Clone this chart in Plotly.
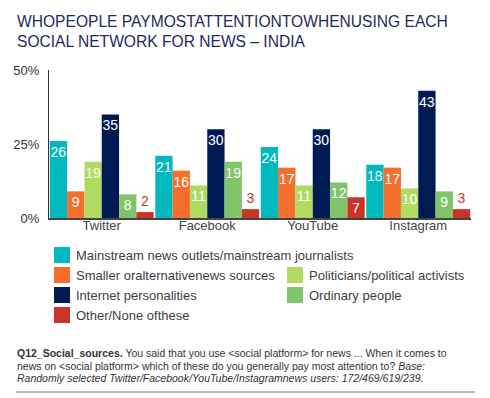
import plotly.graph_objects as go

categories = ["Twitter", "Facebook", "YouTube", "Instagram"]
series_names = [
    "Mainstream news outlets/mainstream journalists",
    "Smaller oralternativenews sources",
    "Politicians/political activists",
    "Internet personalities",
    "Ordinary people",
    "Other/None ofthese",
]
mainstream = [26, 21, 24, 18]
smaller = [9, 16, 17, 17]
politicians = [19, 11, 11, 10]
internet = [35, 30, 30, 43]
ordinary = [8, 19, 12, 9]
other = [2, 3, 7, 3]
series_values = [mainstream, smaller, politicians, internet, ordinary, other]
colors = ["#00B8BE", "#F36F2B", "#B1DA63", "#001A54", "#82C46A", "#C9342A"]
y_tick_vals = [0, 25, 50]
y_tick_text = ["0%", "25%", "50%"]

# page body has an 8px default margin; work in page pixels and subtract it
OFF = 8
W, H = 490 - OFF, 398 - OFF
PL, PR, PT, PB = 49, 471, 70, 218          # plot area in page pixels
L, T = PL - OFF, PT - OFF
R, B = W - (PR - OFF), H - (PB - OFF)
PW, PH = PR - PL, PB - PT


def px(x):
    return (x - PL) / PW


def py(y):
    return (PB - y) / PH


fig = go.Figure()
for name, vals, col in zip(series_names, series_values, colors):
    positions = ["inside" if v >= 6 else "outside" for v in vals]
    fig.add_trace(go.Bar(
        x=categories, y=vals, name=name, marker=dict(color=col, line=dict(width=0)),
        text=[str(v) for v in vals], textposition=positions,
        insidetextanchor="end", textangle=0, constraintext="none",
        insidetextfont=dict(color="white", size=14, family="Liberation Sans"),
        outsidetextfont=dict(color=col, size=14, family="Liberation Sans"),
        cliponaxis=False, showlegend=False,
    ))

fig.update_layout(
    width=W, height=H,
    margin=dict(l=L, r=R, t=T, b=B),
    paper_bgcolor="white", plot_bgcolor="white",
    barmode="group", bargap=0.015, bargroupgap=0,
    font=dict(family="Liberation Sans", color="#333333"),
)
fig.update_yaxes(
    range=[0, 50], tickvals=y_tick_vals, ticktext=y_tick_text,
    showgrid=False, zeroline=False, showline=True, linecolor="#333333", linewidth=1,
    ticks="", tickfont=dict(size=13, color="#333333"), ticklabelstandoff=6,
    automargin=False,
)
fig.update_xaxes(
    showgrid=False, showline=True, linecolor="#444444", linewidth=1.5,
    ticks="", tickfont=dict(size=13, color="#444444"), ticklabelstandoff=-5,
    automargin=False,
)

# Title
fig.add_annotation(
    xref="paper", yref="paper", x=px(15), y=py(11), xanchor="left", yanchor="top",
    text="WHOPEOPLE PAYMOSTATTENTIONTOWHENUSING EACH<br>SOCIAL NETWORK FOR NEWS \u2013 INDIA",
    showarrow=False, align="left",
    font=dict(size=15.6, color="#1F2B5C", family="Liberation Sans"),
)

# Legend (manual layout)
legend_items = [
    (0, 54, 247), (1, 54, 267), (2, 287, 267),
    (3, 54, 287), (4, 287, 287), (5, 54, 307),
]
for idx, lx, ly in legend_items:
    fig.add_shape(
        type="rect", xref="paper", yref="paper",
        x0=px(lx), x1=px(lx + 16), y0=py(ly), y1=py(ly + 16),
        fillcolor=colors[idx], line=dict(width=0),
    )
    fig.add_annotation(
        xref="paper", yref="paper", x=px(lx + 20), y=py(ly + 8),
        xanchor="left", yanchor="middle", text=series_names[idx], showarrow=False,
        font=dict(size=13, color="#404040", family="Liberation Sans"),
    )

# Footnote
foot_lines = [
    "<b>Q12_Social_sources.</b> You said that you use &lt;social platform&gt; for news ... When it comes to",
    "news on &lt;social platform&gt; which of these do you generally pay most attention to? <i>Base:</i>",
    "<i>Randomly selected Twitter/Facebook/YouTube/Instagramnews users: 172/469/619/239</i>.",
]
for i, line in enumerate(foot_lines):
    fig.add_annotation(
        xref="paper", yref="paper", x=px(15), y=py(353 + 12.5 * i),
        xanchor="left", yanchor="middle", text=line, showarrow=False,
        font=dict(size=10.5, color="#333333", family="Liberation Sans"),
    )

fig.add_shape(
    type="line", xref="paper", yref="paper",
    x0=px(16), x1=px(475), y0=py(392), y1=py(392),
    line=dict(color="#A6A6A6", width=1.5),
)

fig.write_html("out.html")
